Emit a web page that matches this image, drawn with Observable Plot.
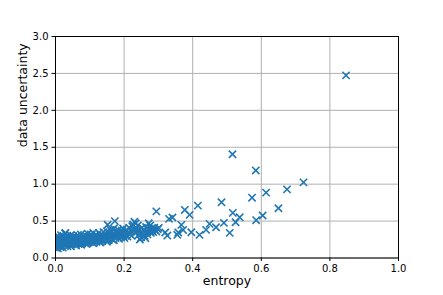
<!DOCTYPE html>
<html>
<head>
<meta charset="utf-8">
<script src="https://cdn.jsdelivr.net/npm/d3@7"></script>
<script src="https://cdn.jsdelivr.net/npm/@observablehq/plot@0.6"></script>
<style>
  html, body { margin: 0; padding: 0; background: white; }
</style>
</head>
<body>
<div id="chart"></div>
<script>
const xTicks = [0, 0.2, 0.4, 0.6, 0.8, 1.0];
const yTicks = [0, 0.5, 1.0, 1.5, 2.0, 2.5, 3.0];
const xLabel = "entropy";
const yLabel = "data uncertainty";

const entropy = [
  0.002,0.003,0.004,0.005,0.006,0.008,0.009,0.010,0.012,0.013,0.015,0.016,0.018,0.019,0.020,
  0.022,0.024,0.025,0.027,0.028,0.030,0.031,0.033,0.034,0.036,0.038,0.039,0.041,0.043,0.044,0.046,0.048,0.049,
  0.051,0.052,0.054,0.056,0.057,0.059,0.061,0.062,0.064,0.066,0.067,0.069,0.071,0.072,0.074,0.076,0.078,0.079,
  0.081,0.083,0.085,0.086,0.088,0.090,0.092,0.094,0.095,0.097,0.099,0.101,0.103,0.105,0.107,0.108,0.110,0.112,0.114,0.116,0.118,
  0.120,0.122,0.124,0.126,0.128,0.130,0.132,0.134,0.136,0.138,0.140,0.142,0.144,0.146,0.148,0.150,0.152,0.153,0.155,0.157,0.158,0.160,
  0.162,0.164,0.166,0.168,0.170,0.172,0.173,0.175,0.177,0.179,0.181,0.183,0.185,0.187,0.189,0.191,0.193,0.195,0.197,0.199,
  0.201,0.203,0.206,0.208,0.210,0.213,0.215,0.218,0.220,0.222,0.224,0.226,0.228,0.230,0.232,0.234,0.236,0.238,0.240,0.242,0.244,0.246,0.248,
  0.250,0.252,0.255,0.258,0.260,0.262,0.264,0.266,0.268,0.270,0.272,0.274,0.276,0.278,0.280,0.282,0.285,0.288,0.290,0.294,0.298,
  0.001,0.007,0.014,0.021,0.035,0.045,0.060,0.075,0.090,0.110,0.130,0.150,0.170,0.029,
  0.294,0.301,0.320,0.326,0.331,0.341,0.355,0.358,0.367,0.372,0.377,0.391,0.396,0.415,0.420,0.439,0.449,0.468,0.484,0.491,
  0.508,0.516,0.517,0.525,0.537,0.573,0.584,0.585,0.604,0.614,0.650,0.675,0.723,0.847
];
const uncertainty = [
  0.18,0.22,0.27,0.30,0.16,0.24,0.20,0.28,0.19,0.25,0.22,0.31,0.17,0.27,0.23,
  0.20,0.29,0.25,0.18,0.33,0.22,0.27,0.19,0.30,0.24,0.21,0.28,0.18,0.26,0.31,0.22,0.20,0.27,
  0.24,0.30,0.19,0.26,0.22,0.29,0.20,0.25,0.31,0.23,0.19,0.28,0.21,0.26,0.32,0.24,0.20,0.29,
  0.23,0.27,0.21,0.31,0.25,0.22,0.29,0.33,0.24,0.21,0.28,0.26,0.32,0.22,0.29,0.25,0.34,0.23,0.28,0.31,0.25,
  0.22,0.30,0.27,0.34,0.24,0.29,0.32,0.26,0.23,0.30,0.35,0.27,0.25,0.31,0.29,0.36,0.45,0.27,0.24,0.33,0.30,0.38,
  0.28,0.35,0.25,0.31,0.40,0.30,0.50,0.27,0.36,0.33,0.29,0.38,0.26,0.34,0.31,0.28,0.37,0.33,0.40,0.30,
  0.27,0.35,0.31,0.38,0.29,0.34,0.41,0.32,0.36,0.30,0.43,0.45,0.38,0.49,0.34,0.47,0.40,0.36,0.44,0.31,0.38,0.25,0.35,
  0.28,0.41,0.33,0.37,0.30,0.27,0.42,0.35,0.32,0.39,0.47,0.36,0.44,0.34,0.40,0.37,0.35,0.41,0.38,0.36,0.39,
  0.14,0.13,0.15,0.14,0.16,0.16,0.17,0.18,0.19,0.20,0.21,0.22,0.24,0.34,
  0.632,0.408,0.346,0.304,0.530,0.548,0.314,0.346,0.449,0.380,0.651,0.584,0.349,0.709,0.313,0.381,0.462,0.416,0.754,0.476,
  0.340,1.405,0.611,0.484,0.551,0.817,1.186,0.512,0.575,0.885,0.674,0.930,1.024,2.474
];

const points = entropy.map((x, i) => ({x, y: uncertainty[i]}));
const fmt = d3.format(".1f");

const chart = Plot.plot({
  width: 443,
  height: 295,
  marginLeft: 55,
  marginRight: 45,
  marginTop: 36,
  marginBottom: 37.5,
  style: {fontFamily: "DejaVu Sans", fontSize: "10px", background: "white", color: "black"},
  x: {domain: [0, 1]},
  y: {domain: [0, 3]},
  marks: [
    Plot.gridX(xTicks, {stroke: "#b0b0b0", strokeOpacity: 1, strokeWidth: 1}),
    Plot.gridY(yTicks, {stroke: "#b0b0b0", strokeOpacity: 1, strokeWidth: 1}),
    Plot.dot(points, {x: "x", y: "y", symbol: "times", r: 3.4, stroke: "#1f77b4", strokeWidth: 1.6, clip: true}),
    Plot.frame({stroke: "black", strokeWidth: 1}),
    Plot.axisX(xTicks, {tickSize: 3.5, tickPadding: 3.5, tickFormat: fmt, label: null, fontSize: 10}),
    Plot.axisY(yTicks, {tickSize: 3.5, tickPadding: 3.5, tickFormat: fmt, label: null, fontSize: 10}),
    Plot.text([xLabel], {text: d => d, frameAnchor: "bottom", dy: 27, fontSize: 12.5}),
    Plot.text([yLabel], {text: d => d, frameAnchor: "left", dx: -33, rotate: -90, fontSize: 12.5})
  ]
});
document.getElementById("chart").appendChild(chart);
</script>
</body>
</html>
